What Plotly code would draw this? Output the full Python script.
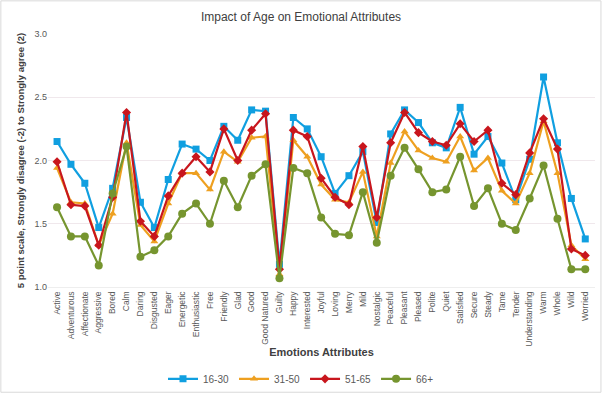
import plotly.graph_objects as go

categories = ["Active", "Adventurous", "Affectionate", "Aggressive", "Bored", "Calm", "Daring",
              "Disgusted", "Eager", "Energetic", "Enthusiastic", "Free", "Friendly", "Glad", "Good",
              "Good Natured", "Guilty", "Happy", "Interested", "Joyful", "Loving", "Merry", "Mild",
              "Nostalgic", "Peaceful", "Pleasant", "Pleased", "Polite", "Quiet", "Satisfied", "Secure",
              "Steady", "Tame", "Tender", "Understanding", "Warm", "Whole", "Wild", "Worried"]

age_16_30 = [2.15, 1.97, 1.82, 1.47, 1.78, 2.34, 1.67, 1.47, 1.85, 2.13, 2.09, 2.00, 2.27, 2.16,
             2.40, 2.39, 1.18, 2.34, 2.25, 2.03, 1.74, 1.88, 2.07, 1.51, 2.21, 2.40, 2.30, 2.14,
             2.10, 2.42, 2.05, 2.19, 1.98, 1.69, 2.01, 2.66, 2.14, 1.70, 1.38]
age_31_50 = [1.94, 1.67, 1.66, 1.33, 1.58, 2.14, 1.49, 1.36, 1.66, 1.90, 1.90, 1.77, 2.07, 1.99,
             2.18, 2.19, 1.10, 2.16, 2.03, 1.81, 1.69, 1.67, 1.91, 1.40, 1.98, 2.23, 2.08, 2.02,
             1.99, 2.19, 1.92, 2.02, 1.76, 1.66, 1.90, 2.31, 1.90, 1.33, 1.22]
age_51_65 = [1.99, 1.65, 1.64, 1.33, 1.71, 2.38, 1.52, 1.40, 1.72, 1.90, 2.03, 1.91, 2.25, 2.00,
             2.24, 2.37, 1.14, 2.24, 2.19, 1.86, 1.71, 1.65, 2.11, 1.55, 2.14, 2.38, 2.22, 2.15,
             2.12, 2.29, 2.15, 2.24, 1.82, 1.73, 2.06, 2.33, 2.09, 1.30, 1.25]
age_66 = [1.63, 1.40, 1.40, 1.17, 1.74, 2.11, 1.24, 1.29, 1.40, 1.58, 1.66, 1.50, 1.84, 1.63,
          1.88, 1.97, 1.07, 1.94, 1.90, 1.55, 1.42, 1.41, 1.75, 1.35, 1.88, 2.10, 1.93, 1.75,
          1.77, 2.03, 1.64, 1.78, 1.50, 1.45, 1.70, 1.96, 1.54, 1.14, 1.14]

series = [
    ("16-30", age_16_30, "#109fe0", "square", 7),
    ("31-50", age_31_50, "#eea020", "triangle-up", 7),
    ("51-65", age_51_65, "#c8161d", "diamond", 7),
    ("66+", age_66, "#76952f", "circle", 8),
]

fig = go.Figure()
for name, vals, color, sym, size in series:
    fig.add_trace(go.Scatter(
        x=categories, y=vals, name=name, mode="lines+markers",
        line=dict(color=color, width=2.2),
        marker=dict(symbol=sym, size=size, color=color),
    ))

font_family = "Liberation Sans, Arial, sans-serif"
fig.update_layout(
    width=602, height=393,
    margin=dict(l=48, r=7, t=34, b=106),
    paper_bgcolor="white", plot_bgcolor="white",
    font=dict(family=font_family, color="#595959", size=9),
    title=dict(text="Impact of Age on Emotional Attributes", x=0.5, xanchor="center",
               y=0.957, yanchor="middle", font=dict(size=12, color="#404040")),
    showlegend=True,
    legend=dict(orientation="h", x=0.5, xanchor="center", xref="container",
                y=0.036, yanchor="middle", yref="container",
                font=dict(size=10, color="#595959"), itemwidth=30, tracegroupgap=0,
                bgcolor="rgba(0,0,0,0)"),
    xaxis=dict(
        type="category", range=[-0.65, 38.7], tickangle=-90, automargin=False,
        tickfont=dict(size=8.5, color="#595959"), showgrid=False, zeroline=False,
        showline=True, linecolor="#eeeeee", ticks="",
        title=dict(text="<b>Emotions Attributes</b>", font=dict(size=11, color="#404040"), standoff=2),
    ),
    yaxis=dict(
        range=[1.0, 3.0], dtick=0.5, tickformat=".1f", automargin=False,
        tickfont=dict(size=9, color="#595959"), showgrid=True, gridcolor="#f0e8ec",
        zeroline=False, ticks="",
        title=dict(text="<b>5 point scale, Strongly disagree (-2) to Strongly agree (2)</b>",
                   font=dict(size=9.5, color="#404040"), standoff=8),
    ),
    shapes=[dict(type="rect", xref="paper", yref="paper", x0=-0.0862, x1=1.0109, y0=-0.416, y1=1.131,
                 line=dict(color="#d9d9d9", width=1))],
)

fig.write_html("out.html", config={"displayModeBar": False},
               post_script="document.body.style.margin='0';document.body.style.overflow='hidden';")
